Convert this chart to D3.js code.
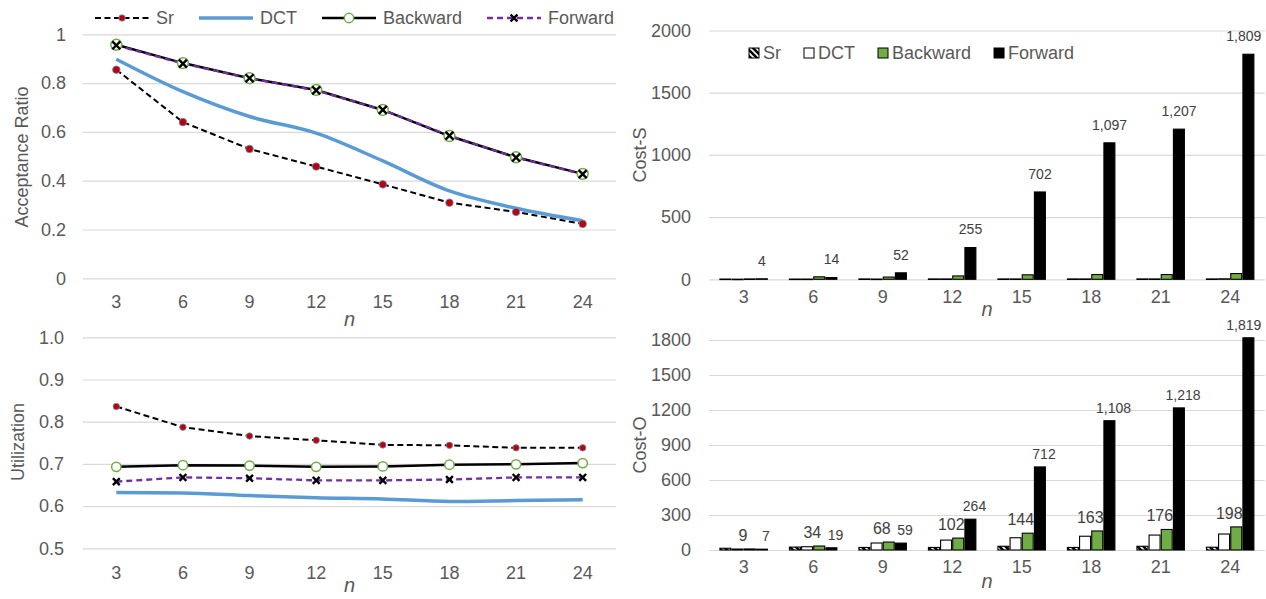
<!DOCTYPE html>
<html>
<head>
<meta charset="utf-8">
<script src="https://cdn.jsdelivr.net/npm/d3@7"></script>
<style>
  body { margin: 0; background: #fff; }
  svg { display: block; font-family: "Liberation Sans", Arial, sans-serif; }
  .tick text { fill: #595959; font-size: 18px; }
</style>
</head>
<body>
<div id="chart"></div>
<script>
// x categories (n) and series names
var nValues = [3, 6, 9, 12, 15, 18, 21, 24];
var seriesNames = ["Sr", "DCT", "Backward", "Forward"];

// acceptance ratio (top left)
var accSr = [0.855, 0.64, 0.53, 0.458, 0.385, 0.31, 0.272, 0.223];
var accDct = [0.898, 0.765, 0.663, 0.595, 0.481, 0.358, 0.287, 0.236];
var accBackward = [0.957, 0.882, 0.82, 0.772, 0.69, 0.583, 0.496, 0.428];
var accForward = [0.955, 0.88, 0.82, 0.77, 0.69, 0.585, 0.495, 0.427];
var accTicks = [0, 0.2, 0.4, 0.6, 0.8, 1];

// utilization (bottom left)
var utilSr = [0.836, 0.787, 0.766, 0.756, 0.745, 0.744, 0.738, 0.738];
var utilDct = [0.632, 0.631, 0.625, 0.62, 0.617, 0.611, 0.613, 0.615];
var utilBackward = [0.693, 0.697, 0.696, 0.693, 0.694, 0.698, 0.699, 0.702];
var utilForward = [0.658, 0.668, 0.666, 0.661, 0.661, 0.663, 0.668, 0.668];
var utilTicks = [0.5, 0.6, 0.7, 0.8, 0.9, 1.0];

// Cost-S (top right)
var costSSr = [2, 2, 3, 3, 3, 3, 3, 3];
var costSDct = [1, 2, 2, 3, 3, 3, 3, 4];
var costSBackward = [3, 20, 18, 27, 36, 38, 38, 46];
var costSForward = [4, 14, 52, 255, 702, 1097, 1207, 1809];
var costSTicks = [0, 500, 1000, 1500, 2000];

// Cost-O (bottom right)
var costOSr = [15, 25, 22, 22, 32, 22, 32, 24];
var costODct = [8, 28, 60, 85, 105, 118, 128, 137];
var costOBackward = [9, 34, 68, 102, 144, 163, 176, 198];
var costOForward = [7, 19, 59, 264, 712, 1108, 1218, 1819];
var costOTicks = [0, 300, 600, 900, 1200, 1500, 1800];

var textGrey = "#595959";
var gridGrey = "#D9D9D9";
var green = "#70AD47";
var blue = "#5B9BD5";
var purple = "#7030A0";

var svg = d3.select("#chart").append("svg")
    .attr("width", 1266)
    .attr("height", 599);

// hatch pattern for Sr bars
var pat = svg.append("defs").append("pattern")
    .attr("id", "hatch")
    .attr("patternUnits", "userSpaceOnUse")
    .attr("width", 6).attr("height", 6);
pat.append("rect").attr("width", 6).attr("height", 6).attr("fill", "black");
pat.append("path")
    .attr("d", "M-1,-1 L7,7 M-4,2 L1,7 M2,-4 L7,1")
    .attr("stroke", "white").attr("stroke-width", 1.6);

function drawMarker(g, type, cx, cy, k) {
    if (type == "dot") {
        g.append("circle").attr("cx", cx).attr("cy", cy).attr("r", 3.6 * k)
            .attr("fill", "#C00000").attr("stroke", blue).attr("stroke-width", 0.8);
    } else if (type == "ring") {
        g.append("circle").attr("cx", cx).attr("cy", cy).attr("r", 5.2 * k)
            .attr("fill", "white").attr("stroke", green).attr("stroke-width", 1.5);
    } else if (type == "cross") {
        var s = 3.8 * k;
        g.append("path")
            .attr("d", `M${cx - s},${cy - s}L${cx + s},${cy + s}M${cx - s},${cy + s}L${cx + s},${cy - s}`)
            .attr("stroke", "black").attr("stroke-width", 2.4);
    }
}

function lineSeries(sr, dct, bw, fw) {
    return [
        {name: "Sr", values: sr, color: "black", width: 2, dash: "6,3.5", marker: "dot", curve: d3.curveLinear},
        {name: "DCT", values: dct, color: blue, width: 3.5, dash: null, marker: null, curve: d3.curveMonotoneX},
        {name: "Backward", values: bw, color: "black", width: 2.5, dash: null, marker: "ring", curve: d3.curveLinear},
        {name: "Forward", values: fw, color: purple, width: 2.3, dash: "6,4", marker: "cross", curve: d3.curveLinear}
    ];
}

// shared axis pieces: grid + y labels, x labels, titles
function drawFrame(c, y) {
    var g = svg.append("g");
    var yAxis = d3.axisLeft(y).tickValues(c.ticks).tickFormat(c.fmt)
        .tickSize(-(c.x1 - c.x0)).tickPadding(c.yPad);
    var ya = g.append("g").attr("transform", `translate(${c.x0},0)`).call(yAxis);
    ya.select(".domain").remove();
    ya.selectAll(".tick line").attr("stroke", gridGrey).attr("stroke-width", 1.2);

    var xb = d3.scaleBand().domain(nValues).range([c.x0, c.x1]);
    var xa = g.append("g").attr("transform", `translate(0,${y(c.ticks[0])})`)
        .call(d3.axisBottom(xb).tickSize(0).tickPadding(c.xPad));
    xa.select(".domain").remove();

    g.append("text")
        .attr("transform", `translate(${c.titleX},${c.titleY}) rotate(-90)`)
        .attr("text-anchor", "middle").attr("dy", "0.35em")
        .attr("fill", textGrey).attr("font-size", "18px")
        .text(c.title);
    g.append("text")
        .attr("x", (c.x0 + c.x1) / 2).attr("y", c.nY)
        .attr("text-anchor", "middle")
        .attr("fill", textGrey).attr("font-size", "20px").attr("font-style", "italic")
        .text("n");
    return xb;
}

function drawLineChart(c) {
    var y = d3.scaleLinear().domain([c.ticks[0], c.ticks[c.ticks.length - 1]]).range([c.y0, c.y1]);
    drawFrame(c, y);
    var x = d3.scalePoint().domain(nValues).range([c.x0, c.x1]).padding(0.5);
    var g = svg.append("g");
    c.series.forEach(function(s) {
        var line = d3.line()
            .x((d, i) => x(nValues[i]))
            .y(d => y(d))
            .curve(s.curve);
        g.append("path").datum(s.values)
            .attr("d", line)
            .attr("fill", "none")
            .attr("stroke", s.color)
            .attr("stroke-width", s.width)
            .attr("stroke-dasharray", s.dash);
    });
    c.series.forEach(function(s) {
        if (!s.marker) return;
        s.values.forEach(function(v, i) {
            drawMarker(g, s.marker, x(nValues[i]), y(v), c.markerK);
        });
    });
}

function drawBarChart(c) {
    var y = d3.scaleLinear().domain([c.ticks[0], c.ticks[c.ticks.length - 1]]).range([c.y0, c.y1]);
    var x0 = drawFrame(c, y);
    var bw = x0.bandwidth();
    var x1 = d3.scaleBand().domain(seriesNames).range([bw * 0.15, bw * 0.85]);
    var fills = {Sr: "url(#hatch)", DCT: "white", Backward: green, Forward: "black"};
    var g = svg.append("g");
    c.series.forEach(function(vals, si) {
        var name = seriesNames[si];
        g.selectAll(null).data(vals).enter().append("rect")
            .attr("x", (d, i) => x0(nValues[i]) + x1(name) + 0.5)
            .attr("y", d => y(d))
            .attr("width", x1.bandwidth() - 1.2)
            .attr("height", d => Math.max(0.5, y(0) - y(d)))
            .attr("fill", fills[name])
            .attr("stroke", "black")
            .attr("stroke-width", 1.1);
    });
    // data labels
    c.labels.forEach(function(lb) {
        var vals = c.series[seriesNames.indexOf(lb.name)];
        g.selectAll(null).data(vals).enter().append("text")
            .attr("x", function(d, i) {
                var cx = x0(nValues[i]) + x1(lb.name) + x1.bandwidth() / 2 + lb.dx;
                return Math.min(cx, 1262 - lb.size * 1.3);
            })
            .attr("y", d => y(d) - lb.off)
            .attr("dy", "0.35em")
            .attr("text-anchor", "middle")
            .attr("fill", "#404040")
            .attr("font-size", lb.size + "px")
            .text(d => d3.format(",")(d));
    });
}

// top left: acceptance ratio
drawLineChart({
    x0: 83, x1: 616, y0: 278.3, y1: 34.3,
    ticks: accTicks, fmt: d3.format(""), yPad: 17, xPad: 17,
    title: "Acceptance Ratio", titleX: 22, titleY: 157, nY: 326,
    series: lineSeries(accSr, accDct, accBackward, accForward), markerK: 1.05
});

// bottom left: utilization
drawLineChart({
    x0: 83, x1: 616, y0: 548.3, y1: 337.3,
    ticks: utilTicks, fmt: d3.format(".1f"), yPad: 19, xPad: 18,
    title: "Utilization", titleX: 18, titleY: 442, nY: 592,
    series: lineSeries(utilSr, utilDct, utilBackward, utilForward), markerK: 0.9
});

// top right: Cost-S
drawBarChart({
    x0: 709, x1: 1265, y0: 279.3, y1: 30.5,
    ticks: costSTicks, fmt: d3.format("d"), yPad: 18, xPad: 11,
    title: "Cost-S", titleX: 640, titleY: 155, nY: 316,
    series: [costSSr, costSDct, costSBackward, costSForward],
    labels: [{name: "Forward", size: 14, off: 18, dx: 0}]
});

// bottom right: Cost-O
drawBarChart({
    x0: 709, x1: 1265, y0: 550, y1: 340,
    ticks: costOTicks, fmt: d3.format("d"), yPad: 18, xPad: 10,
    title: "Cost-O", titleX: 640, titleY: 445, nY: 588,
    series: [costOSr, costODct, costOBackward, costOForward],
    labels: [
        {name: "Backward", size: 16, off: 14, dx: -7},
        {name: "Forward", size: 14, off: 13, dx: 4}
    ]
});

// legend for line charts
var legL = svg.append("g").attr("font-size", "18px").attr("fill", textGrey);
var lx = 95, ly = 18;
lineSeries(accSr, accDct, accBackward, accForward).forEach(function(s) {
    legL.append("line")
        .attr("x1", lx).attr("x2", lx + 54).attr("y1", ly).attr("y2", ly)
        .attr("stroke", s.color).attr("stroke-width", s.width)
        .attr("stroke-dasharray", s.dash);
    if (s.marker) drawMarker(legL, s.marker, lx + 27, ly, 0.9);
    var t = legL.append("text").attr("x", lx + 61).attr("y", ly).attr("dy", "0.35em").text(s.name);
    lx = lx + 61 + t.node().getComputedTextLength() + 25;
});

// legend for bar charts
var legR = svg.append("g").attr("font-size", "18px").attr("fill", textGrey);
var rx = 749, ry = 53;
var swatch = {Sr: "url(#hatch)", DCT: "white", Backward: green, Forward: "black"};
seriesNames.forEach(function(name) {
    legR.append("rect")
        .attr("x", rx).attr("y", ry - 5).attr("width", 10).attr("height", 10)
        .attr("fill", swatch[name]).attr("stroke", "black").attr("stroke-width", 1);
    var t = legR.append("text").attr("x", rx + 14).attr("y", ry).attr("dy", "0.35em").text(name);
    rx = rx + 14 + t.node().getComputedTextLength() + 23;
});
</script>
</body>
</html>
